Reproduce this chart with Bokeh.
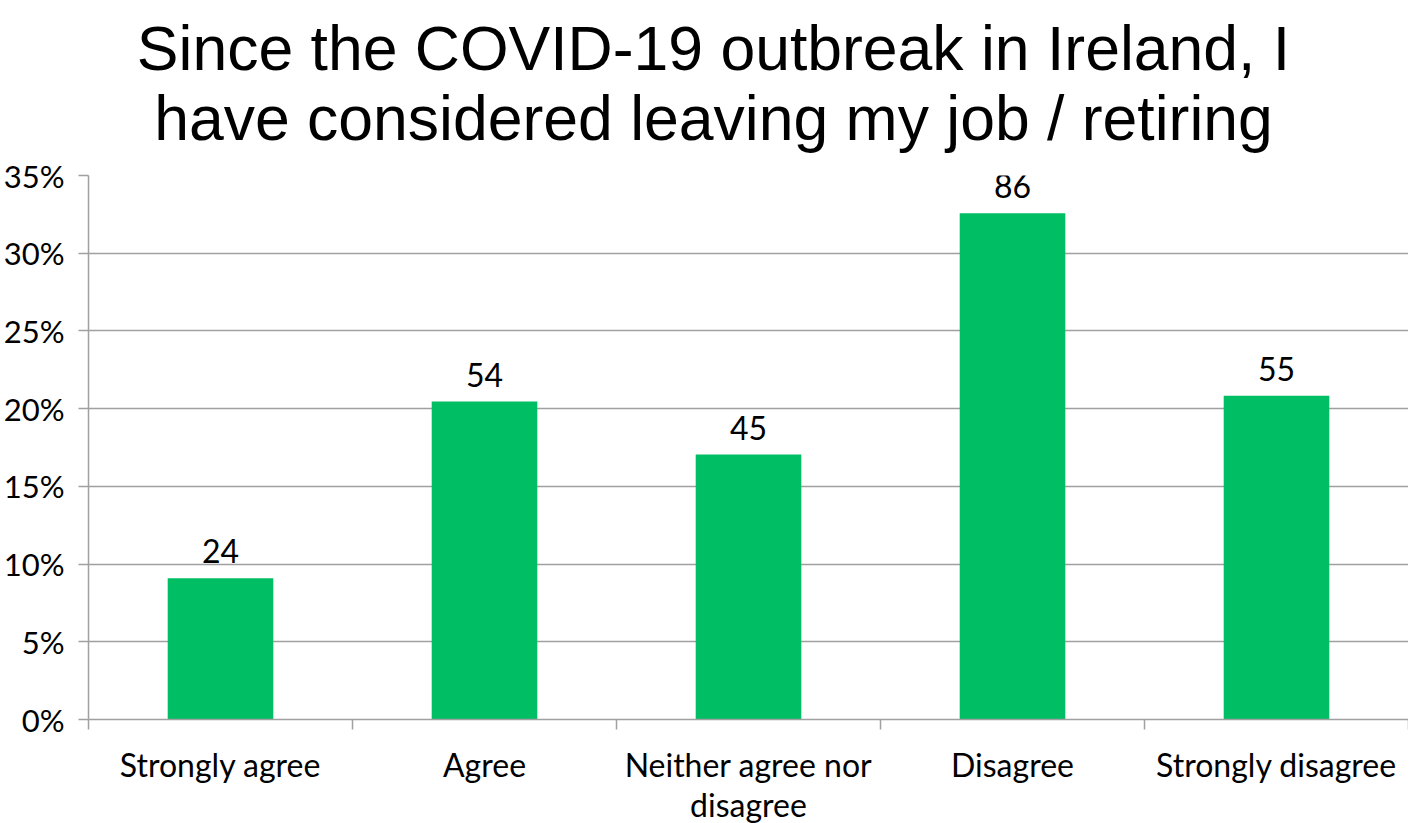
from bokeh.plotting import figure
from bokeh.layouts import column
from bokeh.models import Range1d, FixedTicker, NumeralTickFormatter, ColumnDataSource, LabelSet
from bokeh.core.properties import value
from bokeh.embed import file_html
from bokeh.resources import INLINE

# ---- data ----
categories = ["Strongly agree", "Agree", "Neither agree nor\ndisagree", "Disagree", "Strongly disagree"]
counts = [24, 54, 45, 86, 55]
y_ticks = [0, 0.05, 0.10, 0.15, 0.20, 0.25, 0.30, 0.35]
title_lines = ["Since the COVID-19 outbreak in Ireland, I",
               "have considered leaving my job / retiring"]

total = sum(counts)
shares = [c / total for c in counts]
xs = [i + 0.5 for i in range(len(categories))]

BAR = "#00BE64"
GRID = "#A0A0A0"
FONT = "Lato"
BL = 82
FW, FH = 1320, 544
TH = 155

# ---- title figure (same frame as the chart, so the column aligns them) ----
t = figure(frame_width=FW, frame_height=TH, output_backend="svg", toolbar_location=None,
           title=None, x_range=Range1d(0, FW), y_range=Range1d(TH, 0),
           min_border_left=BL, min_border_right=0, min_border_top=0, min_border_bottom=0,
           x_axis_type=None, y_axis_type=None)
t.outline_line_color = None
t.xgrid.visible = False
t.ygrid.visible = False
tsrc = ColumnDataSource(dict(x=[707 - 8 - BL + 8] * 2, y=[47, 117], text=title_lines))
t.text(x="x", y="y", text="text", source=tsrc, text_align="center", text_baseline="alphabetic",
       text_font=value("Liberation Sans"), text_font_size=value("62.5px"), text_color="black")

# ---- main chart ----
p = figure(frame_width=FW, frame_height=FH, output_backend="svg", toolbar_location=None,
           title=None, x_range=Range1d(0, len(categories)), y_range=Range1d(0, 0.35),
           min_border_left=BL, min_border_right=0, min_border_top=20, min_border_bottom=98)
p.outline_line_color = None
p.background_fill_color = "white"
p.border_fill_color = "white"

src = ColumnDataSource(dict(x=xs, top=shares, label=[str(c) for c in counts]))
p.vbar(x="x", top="top", width=0.4, bottom=0, source=src, fill_color=BAR, line_color=None)

p.add_layout(LabelSet(x="x", y="top", text="label", source=src, y_offset=15,
                      text_align="center", text_baseline="alphabetic",
                      text_font=value(FONT), text_font_size=value("32px"), text_color=value("black")))

# y axis
p.yaxis.ticker = FixedTicker(ticks=y_ticks)
p.yaxis.formatter = NumeralTickFormatter(format="0%")
p.yaxis.axis_line_color = GRID
p.yaxis.axis_line_width = 1.5
p.yaxis.major_tick_line_color = GRID
p.yaxis.major_tick_line_width = 1.5
p.yaxis.major_tick_out = 10
p.yaxis.major_tick_in = 0
p.yaxis.minor_tick_line_color = None
p.yaxis.major_label_text_font = FONT
p.yaxis.major_label_text_font_size = "31px"
p.yaxis.major_label_text_color = "black"
p.yaxis.major_label_standoff = 14

# x axis: labels at centers, ticks at boundaries
p.xaxis.ticker = FixedTicker(ticks=xs, minor_ticks=list(range(len(categories) + 1)))
p.xaxis.major_label_overrides = {x: c for x, c in zip(xs, categories)}
p.xaxis.axis_line_color = GRID
p.xaxis.axis_line_width = 1.5
p.xaxis.major_tick_line_color = None
p.xaxis.major_tick_out = 0
p.xaxis.major_tick_in = 0
p.xaxis.minor_tick_line_color = GRID
p.xaxis.minor_tick_line_width = 1.5
p.xaxis.minor_tick_out = 10
p.xaxis.minor_tick_in = 0
p.xaxis.major_label_text_font = FONT
p.xaxis.major_label_text_font_size = "32px"
p.xaxis.major_label_text_color = "black"
p.xaxis.major_label_text_line_height = 1.05
p.xaxis.major_label_standoff = 15
p.xaxis.major_label_orientation = "horizontal"

p.xgrid.grid_line_color = None
p.ygrid.grid_line_color = GRID
p.ygrid.grid_line_width = 1.5
p.ygrid.ticker = FixedTicker(ticks=y_ticks)

layout = column(t, p, spacing=0)
open("out.html", "w").write(file_html(layout, INLINE))
